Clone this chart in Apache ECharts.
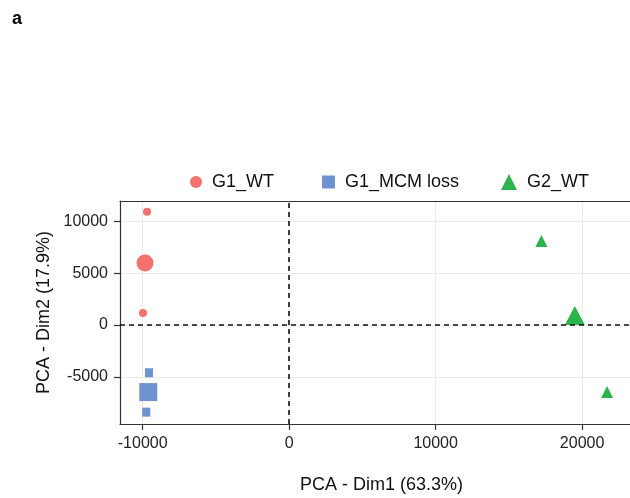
<!DOCTYPE html>
<html><head><meta charset="utf-8">
<script src="https://cdn.jsdelivr.net/npm/echarts@6/dist/echarts.min.js"></script>
<style>html,body{margin:0;padding:0;background:#fff}#c{width:630px;height:498px}</style>
</head><body><div id="c"></div>
<script>
// ---- data ----
const groups = ['G1_WT', 'G1_MCM loss', 'G2_WT'];
const g1wtPoints = [[-9706, 10930], [-9980, 1160]];
const g1wtMean = [[-9843, 5996]];
const g1mcmPoints = [[-9570, -4613], [-9754, -8414]];
const g1mcmMean = [[-9618, -6480]];
const g2wtPoints = [[17225, 7911], [21706, -6673]];
const g2wtMean = [[19502, 610]];
const xTickValues = [-10000, 0, 10000, 20000];
const yTickValues = [-5000, 0, 5000, 10000];
const xTitle = 'PCA - Dim1 (63.3%)';
const yTitle = 'PCA - Dim2 (17.9%)';
const panelLabel = 'a';

// ---- styling ----
const FONT = 'Liberation Sans, Arial, Helvetica, sans-serif';
const RED = '#F3716F', BLUE = '#6F93CE', GREEN = '#2DB34B';
const X_MIN = -11550, X_MAX = 23270, Y_MIN = -9560, Y_MAX = 11980;

const chart = echarts.init(document.getElementById('c'), null, {renderer: 'canvas'});

function legendFor(name, left, icon, size) {
  return {
    data: [name], left: left, top: 168, icon: icon,
    itemWidth: size, itemHeight: size, selectedMode: false,
    textStyle: {fontFamily: FONT, fontSize: 18, color: '#111', padding: [0, 0, 0, 5]}
  };
}
function scatter(name, data, symbol, size, color, extra) {
  return Object.assign({
    name: name, type: 'scatter', data: data, symbol: symbol, symbolSize: size,
    itemStyle: {color: color, opacity: 1}, emphasis: {disabled: true}, animation: false
  }, extra || {});
}
const triOffset = [0, '-16.7%'];
const borderLine = {show: true, onZero: false, lineStyle: {color: '#333', width: 1.2}};

const option = {
  backgroundColor: '#fff',
  animation: false,
  textStyle: {fontFamily: FONT},
  graphic: [{
    type: 'text', left: 12, top: 10,
    style: {text: panelLabel, font: 'bold 18px ' + FONT, fill: '#000'}
  }],
  legend: [
    legendFor(groups[0], 185, 'circle', 12),
    legendFor(groups[1], 317, 'rect', 13),
    legendFor(groups[2], 496, 'triangle', 16)
  ],
  grid: {left: 120, right: 0, top: 201, bottom: 74, show: false},
  xAxis: [{
    type: 'value', min: X_MIN, max: X_MAX, minInterval: 5000, maxInterval: 5000,
    name: xTitle, nameLocation: 'middle', nameGap: 52,
    nameTextStyle: {fontFamily: FONT, fontSize: 18, color: '#111', padding: [0, 0, 0, 13]},
    axisLine: borderLine,
    axisTick: {show: true, customValues: xTickValues, length: 6, lineStyle: {color: '#333', width: 1.2}},
    axisLabel: {customValues: xTickValues, fontFamily: FONT, fontSize: 16, color: '#222', margin: 12, formatter: v => String(v)},
    splitLine: {show: true, lineStyle: {color: '#ebebeb', width: 1}}
  }, {
    type: 'value', position: 'top', min: X_MIN, max: X_MAX,
    axisLine: borderLine, axisTick: {show: false}, axisLabel: {show: false}, splitLine: {show: false}
  }],
  yAxis: {
    type: 'value', min: Y_MIN, max: Y_MAX, minInterval: 2500, maxInterval: 2500,
    name: yTitle, nameLocation: 'middle', nameGap: 66,
    nameTextStyle: {fontFamily: FONT, fontSize: 18, color: '#111'},
    axisLine: borderLine,
    axisTick: {show: true, customValues: yTickValues, length: 6, lineStyle: {color: '#333', width: 1.2}},
    axisLabel: {customValues: yTickValues, fontFamily: FONT, fontSize: 16, color: '#222', margin: 12, formatter: v => String(v)},
    splitLine: {show: true, lineStyle: {color: '#ebebeb', width: 1}}
  },
  series: [
    scatter(groups[0], g1wtPoints, 'circle', 8, RED, {
      markLine: {
        silent: true, symbol: 'none', animation: false, label: {show: false},
        emphasis: {disabled: true},
        lineStyle: {color: '#111', type: [5, 4], width: 1.6},
        data: [{xAxis: 0}, {yAxis: 0}]
      }
    }),
    scatter(groups[0], g1wtMean, 'circle', 17, RED),
    scatter(groups[1], g1mcmPoints, 'rect', [8, 9], BLUE),
    scatter(groups[1], g1mcmMean, 'rect', 18, BLUE),
    scatter(groups[2], g2wtPoints, 'triangle', [12, 12], GREEN, {symbolOffset: triOffset}),
    scatter(groups[2], g2wtMean, 'triangle', [20, 19], GREEN, {symbolOffset: triOffset})
  ]
};
chart.setOption(option);
</script>
</body></html>
